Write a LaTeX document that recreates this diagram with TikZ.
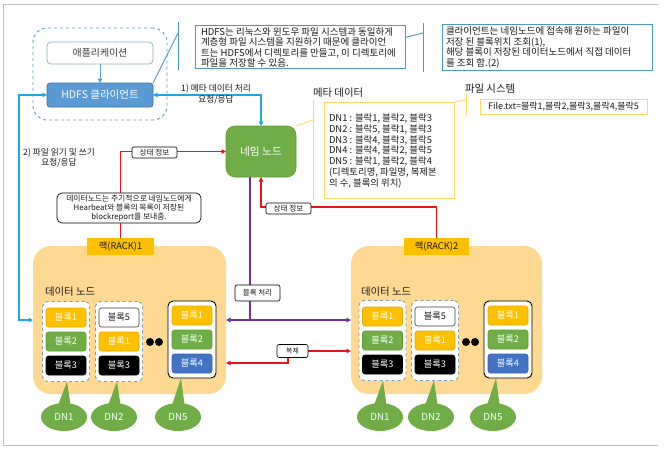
\documentclass[tikz,border=0pt]{standalone}
\usepackage{fontspec}
\setmainfont{Noto Sans CJK KR}
\usetikzlibrary{calc,arrows.meta,shapes.geometric}
\definecolor{cBlue}{HTML}{5B9BD5}
\definecolor{cBlueD}{HTML}{41719C}
\definecolor{cCall}{HTML}{4E97BE}
\definecolor{cLine}{HTML}{1FA6E3}
\definecolor{cGreen}{HTML}{70AD47}
\definecolor{cGreenD}{HTML}{5E9A3A}
\definecolor{cOrange}{HTML}{FFC000}
\definecolor{cOrangeD}{HTML}{E3AA00}
\definecolor{cRack}{HTML}{FFD991}
\definecolor{cYel}{HTML}{FFD966}
\definecolor{cBl4}{HTML}{4472C4}
\definecolor{cRed}{HTML}{E8151B}
\definecolor{cPurp}{HTML}{7030A0}
\definecolor{cFrame}{HTML}{BFBFBF}
\definecolor{cGrp}{HTML}{7F9BB5}
\definecolor{cTxt}{HTML}{1A1A1A}
\newcommand\fsz[2]{\fontsize{#1}{#2}\selectfont}
\begin{document}
\begin{tikzpicture}[x=1pt,y=-1pt,
  every node/.style={inner sep=0pt, outer sep=0pt, text=cTxt},
  >={Triangle[length=4.5pt,width=4.5pt]},
  bline/.style={draw=cLine, line width=1.3pt},
  rline/.style={draw=cRed, line width=1.1pt},
  pline/.style={draw=cPurp, line width=1.3pt},
  tag/.style={draw=black, line width=0.6pt, fill=white, rounded corners=2pt, font=\fsz{7.6}{8}, minimum width=45pt, minimum height=11pt},
  dgroup/.style={draw=cGrp, dashed, line width=0.9pt, fill=white, rounded corners=5pt, minimum width=47pt, minimum height=80pt},
  sgroup/.style={draw=black, line width=0.9pt, fill=white, rounded corners=5pt, minimum width=48pt, minimum height=77pt},
  blkbase/.style={rounded corners=2.5pt, minimum width=40pt, minimum height=19pt, font=\fsz{9.2}{10}, text=white, line width=0.6pt},
  blkO/.style={blkbase, fill=cOrange, draw=cOrangeD},
  blkG/.style={blkbase, fill=cGreen, draw=cGreenD},
  blkK/.style={blkbase, fill=black, draw=black},
  blkB/.style={blkbase, fill=cBl4, draw=cBl4!85!black},
  blkW/.style={blkbase, fill=white, draw=black!75, text=cTxt},
  dnell/.style={ellipse, fill=cGreen, minimum width=46pt, minimum height=28pt, font=\fsz{9.7}{10}, text=white},
  dot/.style={circle, fill=black, minimum size=8pt},
  calltxt/.style={anchor=west, align=left, font=\fsz{9.5}{10.4}}
]
\useasboundingbox (0,0) rectangle (664,451);
\fill[white] (0,0) rectangle (664,451);
\draw[cFrame, line width=0.8pt] (658,4) -- (3,4) -- (3,445) -- (658,445);

% client group
\node[draw=cBlue, dashed, line width=0.9pt, rounded corners=14pt, minimum width=134pt, minimum height=92pt] (grp) at (100,74) {};
\node[draw=cBlueD!55, line width=0.8pt, fill=white, rounded corners=4pt, minimum width=106pt, minimum height=22pt, font=\fsz{9.9}{10}, text=black!75] (app) at (100,53) {애플리케이션};
\node[draw=cBlueD, line width=0.8pt, fill=cBlue, rounded corners=3pt, minimum width=106pt, minimum height=24pt, font=\fsz{10.5}{11}, text=white] (client) at (100,95) {HDFS 클라이언트};
\draw[cBlue, line width=1pt, ->] (app) -- (client);

% callout 1
\node[draw=cCall, line width=0.9pt, fill=white, minimum width=210pt, minimum height=43pt] (call1) at (300,46.5) {};
\node[calltxt] (call1t) at (201,47.5) {HDFS는 리눅스와 윈도우 파일 시스템과 동일하게\\계층형 파일 시스템을 지원하기 때문에 클라이언\\트는 HDFS에서 디렉토리를 만들고, 이 디렉토리에\\파일을 저장할 수 있음.};
\coordinate (c1top) at (178,22);
\coordinate (c1bot) at (178,70);
\coordinate (c1v) at (178,33);
\draw[cCall, line width=0.9pt] (c1top) -- (c1bot);
\draw[cCall, line width=0.9pt] (client.north east) -- (c1v);

% callout 2
\node[draw=cCall, line width=0.9pt, fill=white, minimum width=210pt, minimum height=46pt] (call2) at (547,47) {};
\node[calltxt] (call2t) at (446,47.5) {클라이언트는 네임노드에 접속해 원하는 파일이\\저장 된 블록위치 조회(1),\\해당 블록이 저장된 데이터노드에서 직접 데이터\\를 조회 함.(2)};
\coordinate (c2top) at (423,23);
\coordinate (c2bot) at (423,72);
\coordinate (c2v) at (423,33);
\draw[cCall, line width=0.9pt] (c2top) -- (c2bot);
\draw[cCall, line width=0.9pt] (c2v) -- ($(call1.east)+(0,-9)$);

% name node
\node[fill=cGreen, draw=cGreenD, line width=0.6pt, rounded corners=9pt, minimum width=70pt, minimum height=51pt, font=\fsz{10.7}{11}, text=white] (nn) at (261,151.5) {네임 노드};

% meta data
\node[anchor=west, font=\fsz{10.4}{11}] (metal) at (313,93) {메타 데이터};
\node[draw=cYel, line width=0.9pt, fill=white, minimum width=130pt, minimum height=96pt] (meta) at (389,150) {};
\node[anchor=west, align=left, font=\fsz{9.4}{10.7}] (metat) at (329,151) {DN1 : 블락1, 블락2, 블락3\\DN2 : 블락5, 블락1, 블락3\\DN3 : 블락4, 블락3, 블락5\\DN4 : 블락4, 블락2, 블락5\\DN5 : 블락1, 블락2, 블락4\\(디렉토리명, 파일명, 복제본\\의 수, 블록의 위치)};
\coordinate (mtop) at (313,100);
\coordinate (mbot) at (313,200);
\coordinate (mv) at (313,120);
\draw[cYel, line width=0.9pt] (mtop) -- (mbot);
\draw[cYel, line width=0.9pt] (mv) -- (nn.north east);

% file system
\node[anchor=west, font=\fsz{10.4}{11}] (fsl) at (465,89) {파일 시스템};
\node[draw=cYel, line width=0.9pt, fill=white, minimum width=167pt, minimum height=15pt, font=\fsz{9}{10}] (fs) at (563.5,106.5) {File.txt=블락1,블락2,블락3,블락4,블락5};
\coordinate (ftop) at (466,93);
\coordinate (fbot) at (466,115);
\coordinate (fv) at (466,100);
\draw[cYel, line width=0.9pt] (ftop) -- (fbot);
\draw[cYel, line width=0.9pt] (fv) -- (meta.north east);

% racks
\node[fill=cRack, rounded corners=18pt, minimum width=193pt, minimum height=148pt] (rack1) at (129.5,320) {};
\node[fill=cRack, rounded corners=18pt, minimum width=191pt, minimum height=148pt] (rack2) at (446.5,320) {};
\node[fill=cOrange, minimum width=67pt, minimum height=17pt, font=\fsz{9.3}{10}] (r1lab) at (120.5,246.5) {랙(RACK)1};
\node[fill=cOrange, minimum width=65pt, minimum height=17pt, font=\fsz{9.3}{10}] (r2lab) at (436.5,246.5) {랙(RACK)2};
\node[anchor=west, font=\fsz{10.4}{11}] (dnt1) at (45,292) {데이터 노드};
\node[anchor=west, font=\fsz{10.4}{11}] (dnt2) at (361,292) {데이터 노드};

% groups
\node[dgroup] (g11) at (66,341.5) {};
\node[dgroup] (g12) at (119,341.5) {};
\node[sgroup] (g15) at (192,339.5) {};
\node[dgroup] (g21) at (382.5,340.5) {};
\node[dgroup] (g22) at (435,340.5) {};
\node[sgroup] (g25) at (508,339.5) {};

% blocks rack 1
\node[blkO] (b11a) at ($(g11)+(0,-24)$) {블록1};
\node[blkG] (b11b) at (g11) {블록2};
\node[blkK] (b11c) at ($(g11)+(0,24)$) {블록3};
\node[blkW] (b12a) at ($(g12)+(0,-24)$) {블록5};
\node[blkO] (b12b) at (g12) {블록1};
\node[blkK] (b12c) at ($(g12)+(0,24)$) {블록3};
\node[blkO] (b15a) at ($(g15)+(0,-24)$) {블록1};
\node[blkG] (b15b) at (g15) {블록2};
\node[blkB] (b15c) at ($(g15)+(0,24)$) {블록4};
% blocks rack 2
\node[blkO] (b21a) at ($(g21)+(0,-24)$) {블록1};
\node[blkG] (b21b) at (g21) {블록2};
\node[blkK] (b21c) at ($(g21)+(0,24)$) {블록3};
\node[blkW] (b22a) at ($(g22)+(0,-24)$) {블록5};
\node[blkO] (b22b) at (g22) {블록1};
\node[blkK] (b22c) at ($(g22)+(0,24)$) {블록3};
\node[blkO] (b25a) at ($(g25)+(0,-24)$) {블록1};
\node[blkG] (b25b) at (g25) {블록2};
\node[blkB] (b25c) at ($(g25)+(0,24)$) {블록4};

% dots
\node[dot] (d1a) at (150,342) {};
\node[dot] (d1b) at (159,342) {};
\node[dot] (d2a) at (466,342) {};
\node[dot] (d2b) at (475,342) {};

% DN ellipses with tails
\foreach \e/\g/\cx/\lab in {e11/g11/64/DN1, e12/g12/114/DN2, e15/g15/178/DN5, e21/g21/380/DN1, e22/g22/431/DN2, e25/g25/493/DN5}{
  \node[dnell] (\e) at (\cx,417) {\lab};
  \fill[cGreen] ($(\e.north)+(-7,5)$) -- ($(\e.north |- \g.south)+(3,0)$) -- ($(\e.north)+(7,5)$) -- cycle;
}

% connectors
\draw[bline,<->] (client.east) -| (nn.north);
\node[font=\fsz{8.7}{11}, align=center] (lab1) at (216,94.5) {1) 메타 데이터 처리\\요청/응답};
\draw[bline,<->] (client.west) -- ++(-28,0) |- (rack1.west);
\node[font=\fsz{8.7}{10}, align=center] (lab2) at (59,158) {2) 파일 읽기 및 쓰기\\요청/응답};

\draw[rline,->] (r1lab.north) |- (nn.west);
\draw[rline,->] (r2lab.north) |- ($(nn.south)+(0,30)$) -- (nn.south);

\coordinate (pv) at ($(nn.south)+(-11,0)$);
\draw[pline] (pv) -- (pv |- rack1.east);
\draw[pline,<->] (rack1.east) -- (rack2.west);

\coordinate (dupc) at (292.5,351);
\coordinate (dupl) at (288,357.5);
\coordinate (dupr) at (308,351);
\draw[rline,->] (dupl) |- ($(rack1.east)+(0,43)$);
\draw[rline,->] (dupr) -- (dupr -| rack2.west);
\node[tag, minimum width=31pt, minimum height=13pt, font=\fsz{6.8}{7}] (dup) at (dupc) {복제};

\node[tag] (st1) at (154.5,152.5) {상태 정보};
\node[tag] (st2) at (288.5,208.5) {상태 정보};
\node[tag, minimum height=16pt, font=\fsz{7.5}{8}] (bp) at (257.5,293) {블록 처리};

\node[draw=black, line width=0.7pt, fill=white, rounded corners=5pt, minimum width=144pt, minimum height=30pt, align=center, font=\fsz{7.8}{9}] (hb) at (129,208) {데이터노드는 주기적으로 네임노드에게\\Hearbeat와 블록의 목록이 저장된\\blockreport를 보내줌.};
\end{tikzpicture}
\end{document}
